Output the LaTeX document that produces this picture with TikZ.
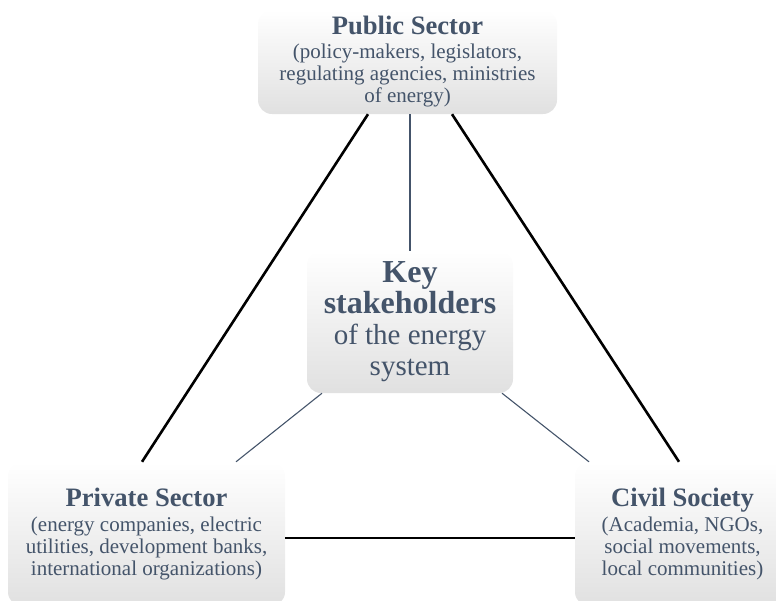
\documentclass[tikz,border=0pt]{standalone}
\usepackage{fontspec}
\setmainfont{Liberation Serif}
\usepackage{tikz}
\usetikzlibrary{calc}
\definecolor{slate}{HTML}{44546A}
\newcommand\sectorhead{\fontsize{26.6}{28}\selectfont\bfseries}
\newcommand\corehead{\fontsize{32}{33}\selectfont\bfseries}
\tikzset{
  stake/.style={rounded corners=14pt, top color=white, middle color=white,
    bottom color=black!12, inner sep=0pt, align=center, text=slate,
    font=\fontsize{21}{22}\selectfont},
  bond/.style={line width=2.6pt},
  spoke/.style={draw=slate, line width=1.1pt}
}

\begin{document}
\begin{tikzpicture}[x=1pt,y=-1pt]
          \useasboundingbox (0,0) rectangle (776,600);
          \node[stake, minimum width=299pt, minimum height=104pt] (pub) at (407.5,62)
            {\sectorhead Public Sector\\[2pt] (policy-makers, legislators,\\ regulating agencies, ministries\\ of energy)};
          \node[stake, minimum width=206pt, minimum height=142pt, font=\fontsize{29}{31}\selectfont] (core) at (410,322)
            {\corehead Key\\ \corehead stakeholders\\ of the energy\\ system};
          \node[stake, minimum width=277pt, minimum height=144pt] (priv) at (146.5,534)
            {\sectorhead Private Sector\\[2.5pt] (energy companies, electric\\ utilities, development banks,\\ international organizations)};
          \node[stake, minimum width=215pt, minimum height=144pt] (civ) at (682.5,534)
            {\sectorhead Civil Society\\[2.5pt] (Academia, NGOs,\\ social movements,\\ local communities)};
          \draw[bond] ([xshift=-39.5pt]pub.south) -- ([xshift=-4.5pt]priv.north);
          \draw[bond] ([xshift=44.5pt]pub.south) -- ([xshift=-3.5pt]civ.north);
          \draw[bond] ([yshift=-4pt]priv.east) -- ([yshift=-4pt]civ.west);
          \draw[spoke] (pub.south -| core.north) -- (core.north);
          \draw[spoke] ([xshift=-88pt]core.south) -- ([xshift=89.5pt]priv.north);
          \draw[spoke] ([xshift=92pt]core.south) -- ([xshift=-93.5pt]civ.north);
        \end{tikzpicture}
\end{document}
